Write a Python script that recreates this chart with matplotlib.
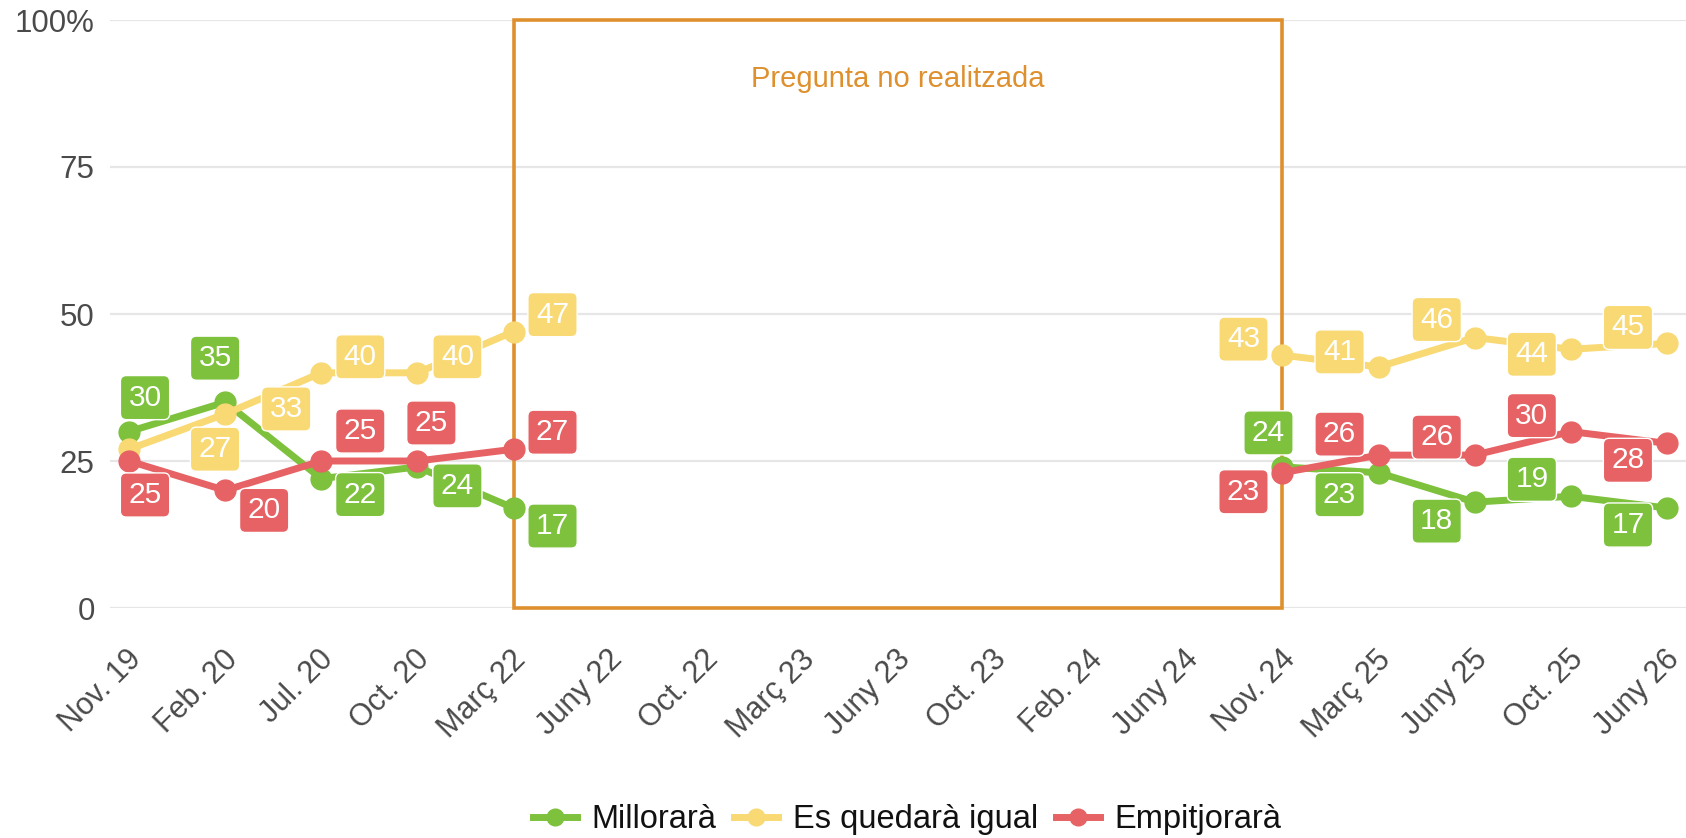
import numpy as np
import matplotlib
matplotlib.use("Agg")
import matplotlib.pyplot as plt
from matplotlib.lines import Line2D
from matplotlib.patches import Rectangle
import matplotlib.transforms as mtransforms

# ---- data ----
categories = ["Nov. 19", "Feb. 20", "Jul. 20", "Oct. 20", "Març 22", "Juny 22", "Oct. 22",
              "Març 23", "Juny 23", "Oct. 23", "Feb. 24", "Juny 24", "Nov. 24", "Març 25",
              "Juny 25", "Oct. 25", "Juny 26"]
nan = np.nan
millorara = [30, 35, 22, 24, 17, nan, nan, nan, nan, nan, nan, nan, 24, 23, 18, 19, 17]
igual = [27, 33, 40, 40, 47, nan, nan, nan, nan, nan, nan, nan, 43, 41, 46, 44, 45]
empitjorara = [25, 20, 25, 25, 27, nan, nan, nan, nan, nan, nan, nan, 23, 26, 26, 30, 28]
series_names = ["Millorarà", "Es quedarà igual", "Empitjorarà"]
yticks = [0, 25, 50, 75, 100]
ytick_labels = ["0", "25", "50", "75", "100%"]
gap_start, gap_end = "Març 22", "Nov. 24"
gap_text = "Pregunta no realitzada"

# ---- styles ----
colors = ["#7DC13D", "#F8D974", "#E66264"]
gap_color = "#DF902E"
# label offsets in pixels (dx right, dy down), per series
off_m = [(16, -34), (-10, -44), (39, 16), (40, 19), (39, 18)] + [None] * 7 + \
        [(-14, -34), (-39, 22), (-38, 19), (-39, -17), (-39, 17)]
off_i = [(86, 0), (61, -5), (39, -16), (40, -16), (39, -17)] + [None] * 7 + \
        [(-39, -16), (-39, -15), (-38, -18), (-39, 5), (-39, -16)]
off_e = [(16, 34), (39, 20), (39, -30), (14, -38), (39, -17)] + [None] * 7 + \
        [(-39, 19), (-39, -21), (-38, -18), (-39, -16), (-39, 17)]

plt.rcParams['font.family'] = ['Liberation Sans', 'DejaVu Sans']

W, H = 1686, 838
fig = plt.figure(figsize=(W / 100, H / 100), dpi=100)
ax = fig.add_axes([110 / W, 230 / H, 1576 / W, 588 / H])

x = np.arange(len(categories))
ax.set_xlim(-0.198, len(categories) - 1 + 0.198)
ax.set_ylim(0, 100)

for s in ax.spines.values():
    s.set_visible(False)

ax.set_yticks(yticks)
ax.set_yticklabels(ytick_labels, fontsize=22.5, color="#4a4a4a")
ax.tick_params(axis='y', length=0, pad=11)
ax.grid(axis='y', color="#e6e6e6", lw=1.6, zorder=0)
ax.set_axisbelow(True)

ax.set_xticks(x)
ax.set_xticklabels(categories, fontsize=22, color="#4a4a4a", rotation=45,
                   ha='right', va='center', rotation_mode='anchor')
ax.tick_params(axis='x', length=0, pad=34)
shift = mtransforms.ScaledTranslation(8 / 100, 0, fig.dpi_scale_trans)
for lab in ax.get_xticklabels():
    lab.set_transform(lab.get_transform() + shift)

# gap box
i0, i1 = categories.index(gap_start), categories.index(gap_end)
ax.add_patch(Rectangle((i0, 0), i1 - i0, 100, fill=False, edgecolor=gap_color,
                       lw=2.6, zorder=1, clip_on=False))
ax.text((i0 + i1) / 2, 90, gap_text, color=gap_color, fontsize=21,
        ha='center', va='center', zorder=1)

all_series = [millorara, igual, empitjorara]
all_offs = [off_m, off_i, off_e]
for k, (vals, col, name) in enumerate(zip(all_series, colors, series_names)):
    ax.plot(x, vals, color=col, lw=5, marker='o', ms=15, zorder=3 + k,
            solid_capstyle='round', clip_on=False, label=name)
for k, (vals, col, offs) in enumerate(zip(all_series, colors, all_offs)):
    for xi, v, o in zip(x, vals, offs):
        if np.isnan(v) or o is None:
            continue
        ax.annotate(f"{int(v)}", (xi, v), xytext=(o[0] * 0.72, -o[1] * 0.72),
                    textcoords='offset points', ha='center', va='center',
                    fontsize=21.5, color='white', zorder=10 + k,
                    bbox=dict(boxstyle='round,pad=0.27,rounding_size=0.2', fc=col,
                              ec='white', lw=1.0),
                    annotation_clip=False)

handles = [Line2D([0], [0], color=c, lw=5, marker='o', ms=12) for c in colors]
fig.legend(handles, series_names, loc='center', bbox_to_anchor=(0.538, 0.022),
           ncol=3, frameon=False, fontsize=23.5, handlelength=1.35,
           handletextpad=0.45, columnspacing=0.55, labelcolor="#111111")

fig.savefig("out.png", dpi=100)
